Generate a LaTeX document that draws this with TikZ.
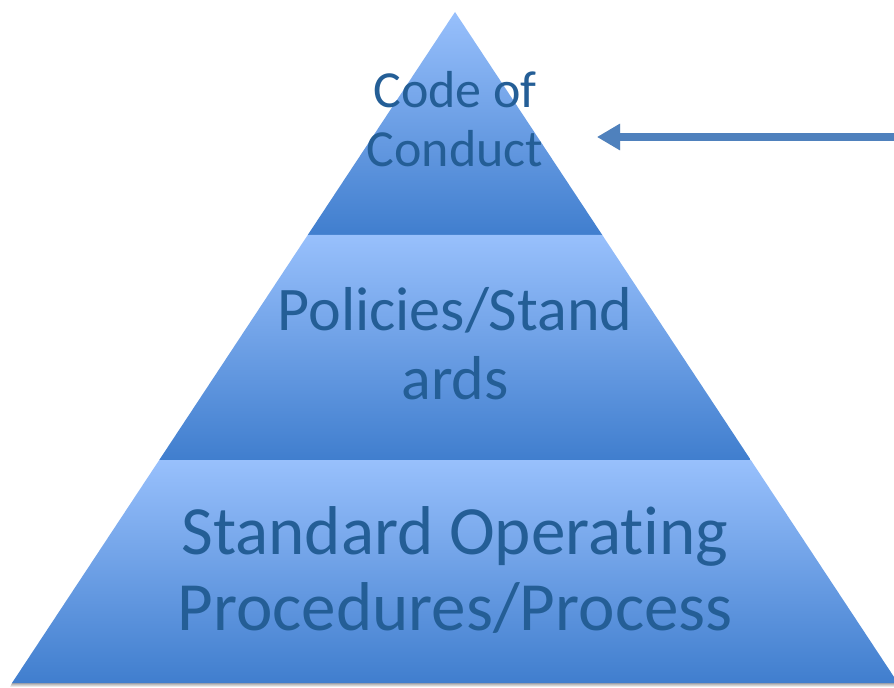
\documentclass[tikz,border=0pt]{standalone}
\usepackage{fontspec}
\setmainfont{Carlito}[Ligatures=NoCommon]
\usepackage{xcolor}
\usetikzlibrary{arrows.meta}
\definecolor{TierTop}{RGB}{152,192,252}
\definecolor{TierBot}{RGB}{64,126,206}
\definecolor{TierText}{RGB}{36,94,150}
\definecolor{Pointer}{RGB}{79,129,189}

\begin{document}
\begin{tikzpicture}[
  tier/.style={top color=TierTop, bottom color=TierBot, draw=none},
  tiertext/.style={text=TierText, align=center, inner sep=0pt, anchor=base},
  pointer/.style={draw=Pointer, line width=0.16cm, -{Triangle[length=0.46cm, width=0.50cm]}}
]%
\clip (0,0) rectangle (17.88,13.74);%
\shade[top color=black!35, bottom color=white] (0.24,0.08) -- (17.96,0.08) -- (17.96,0.00) -- (0.20,0.00) -- cycle;%
\shade[tier] (9.10,13.50) -- (12.045,9.04) -- (6.155,9.04) -- cycle;%
\shade[tier] (6.155,9.04) -- (12.045,9.04) -- (15.015,4.54) -- (3.185,4.54) -- cycle;%
\shade[tier] (3.185,4.54) -- (15.015,4.54) -- (17.96,0.08) -- (0.24,0.08) -- cycle;%
\node[tiertext, font=\fontsize{29.6}{33.6}\selectfont] (conduct) at (9.10, 10.40) {Code of\\Conduct};%
\node[tiertext, font=\fontsize{35.3}{39.3}\selectfont] (policies) at (9.10, 5.74) {Policies/Stand\\ards};%
\node[tiertext, font=\fontsize{39.3}{42.7}\selectfont] (procedures) at (9.10, 1.14) {Standard Operating\\Procedures/Process};%
\coordinate (arrowtail) at (17.95, 11.00);%
\coordinate (arrowtip) at (11.94, 11.00);%
\draw[pointer, draw=black!15, shift={(0,-0.07)}] (arrowtail) -- (arrowtip);%
\draw[pointer] (arrowtail) -- (arrowtip);%
\end{tikzpicture}
\end{document}
